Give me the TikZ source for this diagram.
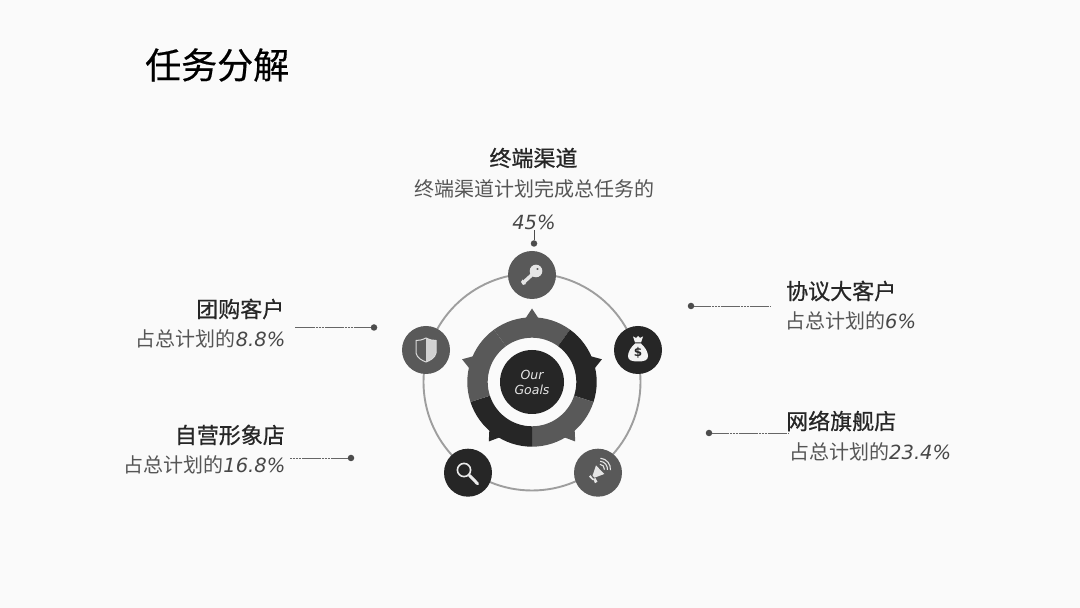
\documentclass[tikz,border=0pt]{standalone}
\usepackage{fontspec}
\setmainfont{Noto Sans CJK SC}
\newfontfamily\numfont{DejaVu Sans}
\newfontfamily\headfont[FakeBold=0.7]{Noto Sans CJK SC}
\newfontfamily\titlefont[FakeBold=0.5]{Noto Sans CJK SC}
\usepackage{tikz}
\usetikzlibrary{calc}
\definecolor{pagebg}{HTML}{FAFAFA}
\definecolor{darkseg}{HTML}{262626}
\definecolor{graseg}{HTML}{595959}
\definecolor{ringgray}{HTML}{9E9E9E}
\definecolor{subtext}{HTML}{555555}
\newcommand{\numtxt}[1]{{\fontsize{19.5}{24}\selectfont\numfont\itshape\color{black!72}#1}}
\tikzset{
  titletext/.style={
    font = \fontsize{36}{40}\selectfont\titlefont,
    inner sep = 0pt
  },
  headtext/.style={
    font = \fontsize{22}{26}\selectfont\headfont,
    text = black!85,
    inner sep = 0pt
  },
  subhead/.style={
    font = \fontsize{20}{24}\selectfont,
    text = subtext,
    inner sep = 0pt
  },
  iconbase/.style={
    shape = circle,
    minimum size = 48pt,
    inner sep = 0pt
  },
  gricon/.style={
    iconbase,
    fill = graseg
  },
  darkicon/.style={
    iconbase,
    fill = darkseg
  },
  pin/.style={
    shape = circle,
    minimum size = 6.5pt,
    inner sep = 0pt,
    fill = black!70
  },
  leader/.style={
    line width = 0.8pt,
    draw = black!60,
    dash pattern = on 2.5pt off 0.4pt
  },
}
\begin{document}
\begin{tikzpicture}[x=1pt,y=1pt]
    \def\rring{108.5}
    \def\rseg{64.7}
    \def\rhole{44.3}
    \def\rspike{73.5}
    \fill[pagebg] (0,0) rectangle (1080,608);
    \useasboundingbox (0,0) rectangle (1080,608);
    % ring and donut
    \coordinate (goal) at (532,226);
    \draw[ringgray,line width=1.9pt] (goal) circle (\rring);
    \foreach \a/\b/\c in {54/126/graseg, -18/54/darkseg, -90/-18/graseg, -162/-90/darkseg, 126/198/graseg}{
    \fill[\c] ($(goal)+(\a:\rseg)$) arc (\a:\b:\rseg) -- ($(goal)+(\b:\rhole)$) arc (\b:\a:\rhole) -- cycle;
    \pgfmathsetmacro{\m}{(\a+\b)/2}
    \fill[\c] ($(goal)+(\m-6:\rseg-1)$) -- ($(goal)+(\m:\rspike)$) -- ($(goal)+(\m+6:\rseg-1)$) -- cycle;}
    \node[shape=circle,fill=darkseg,minimum size=64pt,inner sep=0pt,text=white!90!black,align=center,font=\fontsize{12.5}{15}\selectfont\numfont\itshape] (center) at (goal) {Our\\Goals};
    % icon circles
    \node[gricon] (key) at (532,333) {};
    \node[darkicon] (bag) at (638,258) {};
    \node[gricon] (shield) at (426,258) {};
    \node[darkicon] (lens) at (468,135.3) {};
    \node[gricon] (horn) at (598,135.3) {};
    % key
    \begin{scope}[shift={(key.center)}]
    \draw[white!90!black,line width=3.5pt] (3,3) -- (-8,-7);
    \fill[white!90!black] (-9.5,-4.5) -- (-6,-9) -- (-9,-10) -- (-11,-7) -- cycle;
    \fill[white!90!black,even odd rule] (4,4) circle (6.3) (5.5,6) circle (1.4);
    \end{scope}
    % shield
    \begin{scope}[shift={(shield.center)}]
    \fill[white!82!black] (0,12) .. controls (4,10) and (7,9.5) .. (10,9.5) -- (10,-3) .. controls (9,-8) and (4,-10.5) .. (0,-12) -- cycle;
    \draw[white!85!black,line width=1pt] (0,12) .. controls (4,10) and (7,9.5) .. (10,9.5) -- (10,-3) .. controls (9,-8) and (4,-10.5) .. (0,-12) .. controls (-4,-10.5) and (-9,-8) .. (-10,-3) -- (-10,9.5) .. controls (-7,9.5) and (-4,10) .. (0,12) -- cycle;
    \end{scope}
    % money bag
    \begin{scope}[shift={(bag.center)}]
    \fill[white!95!black] (-3,6.5) .. controls (-7,3) and (-10,-2) .. (-10,-6) .. controls (-10,-10) and (-7,-11.5) .. (0,-11.5) .. controls (7,-11.5) and (10,-10) .. (10,-6) .. controls (10,-2) and (7,3) .. (3,6.5) -- cycle;
    \fill[white!95!black] (-3,7.5) -- (-5,13.5) -- (-2,12) -- (0,14) -- (2,12) -- (5,13.5) -- (3,7.5) -- cycle;
    \node[inner sep=0pt,text=darkseg,font=\fontsize{12}{12}\selectfont\numfont\bfseries] (dollar) at (0,-3) {\$};
    \end{scope}
    % magnifier
    \begin{scope}[shift={(lens.center)}]
    \draw[white!92!black,line width=1.6pt] (-4,2.7) circle (6.6);
    \draw[white!92!black,line width=3pt,line cap=round] (1.5,-2.7) -- (9.5,-11);
    \end{scope}
    % megaphone
    \begin{scope}[shift={(horn.center)}]
    \fill[white!90!black] (-2,7.3) -- (6.3,-1.3) -- (-3.5,-5) -- (-5.5,-3) -- cycle;
    \fill[white!90!black] (-7.5,-2.5) -- (-4,-7) -- (-5.5,-7.5) -- (-9,-4) -- cycle;
    \fill[white!90!black] (-5,-6) -- (-2.5,-5.5) -- (-0.5,-9) -- (-3,-10.5) -- cycle;
    \foreach \r in {5,8,11}{
    \draw[white!90!black,line width=1.1pt] ($(1.5,3.5)+(-5:\r)$) arc (-5:85:\r);}
    \end{scope}
    % texts
    \node[titletext,anchor=west] (title) at (145,543) {任务分解};
    \node[headtext] (dhead) at (533.5,450) {终端渠道};
    \node[subhead] (dsub) at (534.5,419) {终端渠道计划完成总任务的};
    \node[subhead] (dnum) at (534,386) {\numtxt{45\%}};
    \node[headtext,anchor=east] (thead) at (284.5,299) {团购客户};
    \node[subhead,anchor=east] (tsub) at (285.5,269) {占总计划的\numtxt{8.8\%}};
    \node[headtext,anchor=east] (zhead) at (285,173) {自营形象店};
    \node[subhead,anchor=east] (zsub) at (285.5,143) {占总计划的\numtxt{16.8\%}};
    \node[headtext,anchor=west] (xhead) at (786,317) {协议大客户};
    \node[subhead,anchor=west] (xsub) at (785,287) {占总计划的\numtxt{6\%}};
    \node[headtext,anchor=west] (whead) at (786,187) {网络旗舰店};
    \node[subhead,anchor=west] (wsub) at (789,156) {占总计划的\numtxt{23.4\%}};
    % leaders
    \node[pin] (dpin) at (534,364.5) {};
    \node[pin] (tpin) at (374,280.5) {};
    \node[pin] (zpin) at (351,150) {};
    \node[pin] (xpin) at (691,302) {};
    \node[pin] (wpin) at (709,175) {};
    \coordinate (tend) at (295,280.5);
    \coordinate (zend) at (290,150);
    \coordinate (xend) at (771,302);
    \coordinate (wend) at (788,175);
    \draw[black!70,thin] (dpin) -- (dnum.south);
    \draw[leader] (tpin) -- (tend);
    \draw[leader] (zpin) -- (zend);
    \draw[leader] (xpin) -- (xend);
    \draw[leader] (wpin) -- (wend);
\end{tikzpicture}
\end{document}
